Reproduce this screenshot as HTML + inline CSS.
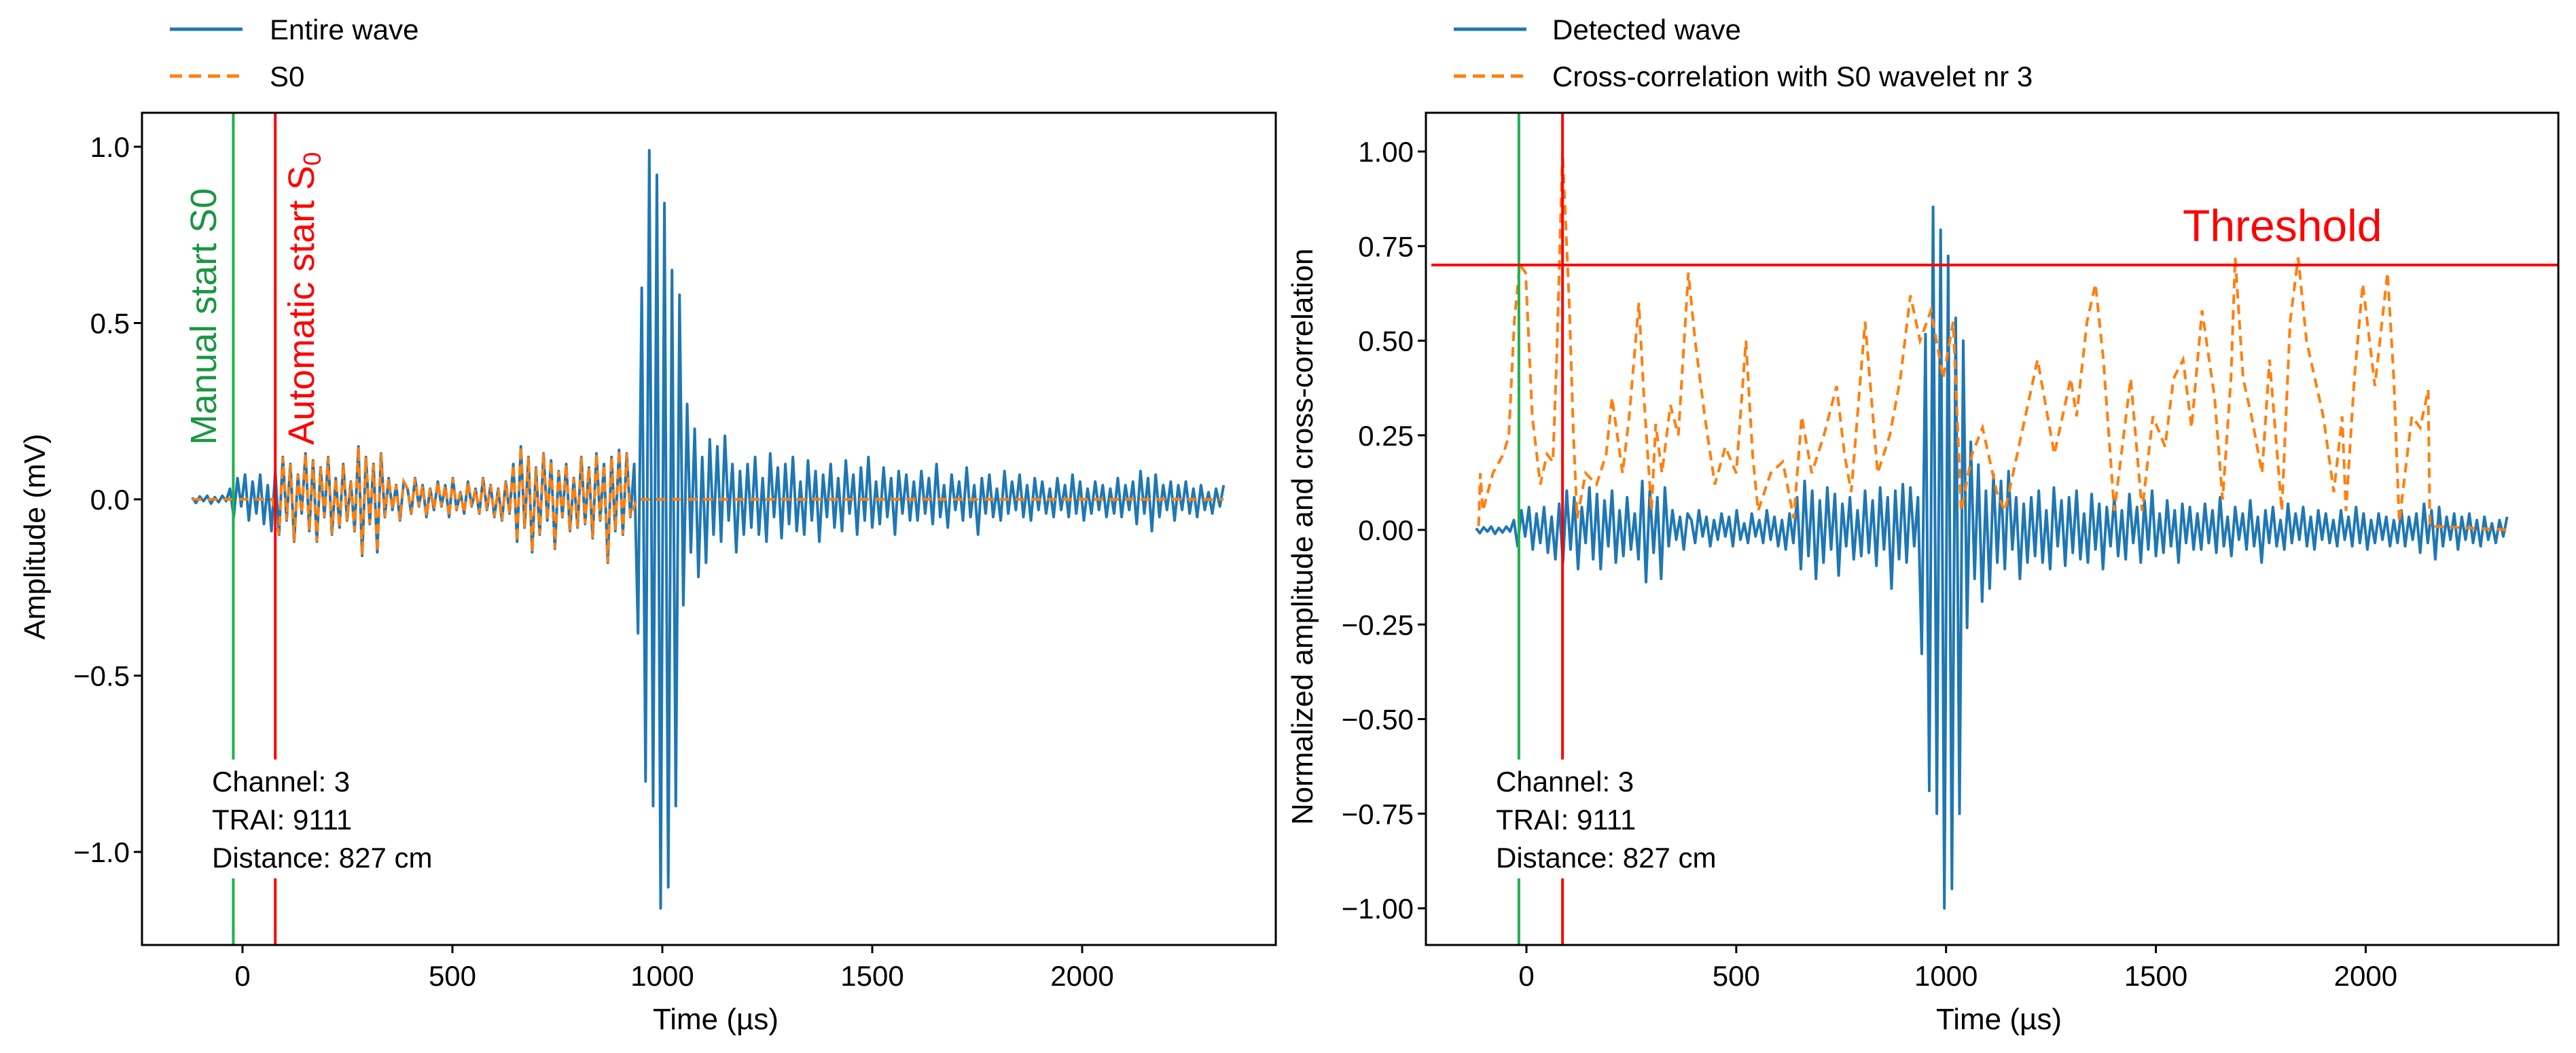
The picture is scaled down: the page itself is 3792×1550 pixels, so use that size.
<!DOCTYPE html>
<html><head><meta charset="utf-8"><style>
body{margin:0;background:#fff}
svg{display:block;font-family:"Liberation Sans",sans-serif}
</style></head><body>
<svg id="chart" width="3792" height="1550" viewBox="0 0 3792 1550" xmlns="http://www.w3.org/2000/svg"></svg>
<script>
// ---- data ----
const waveStart = -120, waveStep = 9;
const waveValues = [
0.005,-0.01,0.008,-0.005,0.01,-0.012,0.006,-0.008,0.01,-0.005,
0.03,-0.05,0.06,-0.02,0.07,-0.06,0.05,-0.04,0.07,-0.07,0.04,-0.09,
0.08,-0.1,0.12,-0.06,0.1,-0.12,0.07,-0.04,0.13,-0.09,0.11,-0.12,0.09,-0.05,0.12,-0.1,0.06,-0.08,0.1,-0.06,0.05,-0.09,0.15,-0.16,0.12,-0.07,0.1,-0.15,0.13,-0.05,0.06,-0.03,0.04,-0.06,0.05,
0.03,-0.04,0.06,-0.02,0.04,-0.05,0.03,-0.03,0.05,-0.02,0.04,-0.05,0.06,-0.03,0.02,-0.04,0.05,-0.02,0.03,-0.04,0.06,-0.03,0.04,-0.05,0.03,-0.06,0.05,-0.04,
0.1,-0.12,0.15,-0.08,0.12,-0.15,0.09,-0.1,0.13,-0.06,0.11,-0.14,0.08,-0.05,0.1,-0.09,0.06,-0.08,0.12,-0.07,0.09,-0.11,0.13,-0.06,0.1,-0.18,0.12,-0.09,0.14,-0.1,0.13,-0.05,
0.1,-0.38,0.6,-0.8,0.99,-0.87,0.92,-1.16,0.84,-1.1,0.65,-0.87,0.58,-0.3,0.27,-0.15,
0.2,-0.22,0.12,-0.18,0.17,-0.1,0.15,-0.12,0.18,-0.06,0.1,-0.15,0.08,-0.1,
0.1,-0.08,0.12,-0.1,0.06,-0.12,0.13,-0.05,0.09,-0.11,0.1,-0.07,0.12,-0.09,0.05,-0.1,0.11,-0.06,0.08,-0.12,0.07,-0.05,0.1,-0.08,0.06,-0.09,0.11,-0.04,0.07,-0.1,0.09,-0.06,0.12,-0.08,0.05,-0.07,0.09,-0.05,0.06,-0.1,0.08,-0.04,0.07,-0.06,
0.05,-0.06,0.08,-0.04,0.06,-0.07,0.1,-0.05,0.04,-0.08,0.07,-0.03,0.05,-0.06,0.09,-0.05,0.04,-0.1,0.06,-0.04,0.07,-0.05,0.03,-0.06,0.08,-0.04,0.05,-0.03,0.07,-0.05,0.04,-0.06,0.06,-0.03,0.05,-0.04,0.03,-0.05,0.06,-0.03,0.04,-0.05,0.07,-0.04,0.05,-0.06,0.03,-0.04,0.05,-0.03,0.04,-0.05,0.03,-0.04,0.06,-0.05,0.04,-0.03,0.05,-0.07,0.08,-0.04,0.06,-0.09,0.07,-0.05,0.04,-0.03,0.05,-0.06,0.04,-0.03,0.05,-0.04,0.03,-0.05,0.04,-0.03,0.02,-0.04,0.03,-0.02,0.04];
const s0Window = [80, 930];
const normMax = 1.16;
const xcTimes = [-114,-110,-104,-80,-55,-42,-29,-16,-2,14,33,49,63,72,86,102,112,121,141,167,190,204,229,245,268,280,298,308,323,343,362,386,402,425,449,474,500,523,539,552,582,611,637,656,680,709,739,758,774,807,837,866,891,915,938,964,993,1017,1036,1062,1087,1121,1140,1160,1189,1218,1258,1297,1311,1336,1356,1375,1401,1440,1467,1493,1522,1542,1565,1585,1610,1640,1659,1679,1689,1708,1728,1753,1771,1800,1820,1839,1859,1899,1924,1944,1953,1973,1993,2022,2052,2067,2080,2110,2130,2149,2153,2340];
const xcValues = [0.01,0.15,0.05,0.15,0.2,0.25,0.55,0.7,0.68,0.3,0.12,0.2,0.18,0.45,1.0,0.6,0.25,0.03,0.15,0.12,0.2,0.35,0.15,0.3,0.6,0.35,0.05,0.28,0.15,0.33,0.25,0.68,0.5,0.3,0.12,0.22,0.15,0.5,0.2,0.05,0.15,0.18,0.03,0.3,0.15,0.25,0.38,0.2,0.1,0.55,0.15,0.25,0.4,0.62,0.5,0.58,0.4,0.55,0.05,0.2,0.27,0.1,0.05,0.15,0.3,0.45,0.2,0.4,0.3,0.55,0.65,0.45,0.05,0.4,0.05,0.3,0.22,0.4,0.45,0.27,0.58,0.35,0.08,0.4,0.72,0.4,0.3,0.15,0.45,0.05,0.55,0.72,0.5,0.3,0.1,0.3,0.05,0.4,0.65,0.38,0.68,0.4,0.02,0.3,0.27,0.37,0.01,0.0];
const xTicks = [0,500,1000,1500,2000];
const yTicksL = [-1.0,-0.5,0.0,0.5,1.0];
const yTicksR = [-1.0,-0.75,-0.5,-0.25,0,0.25,0.5,0.75,1.0];
const manualStartL = -22, autoStartL = 78, manualStartR = -18, autoStartR = 86;
const threshold = 0.7;

// ---- axes ----
const xL = t => 357 + t*0.618, yL = v => 735 - v*519;
const xR = t => 2247 + t*0.6177, yR = v => 780 - v*557;
const svg = document.getElementById('chart');
const NS = 'http://www.w3.org/2000/svg';
function mk(tag, attrs, parent, text){const e=document.createElementNS(NS,tag);for(const k in attrs)e.setAttribute(k,attrs[k]);if(text!==undefined)e.textContent=text;(parent||svg).appendChild(e);return e;}
const BLUE='#1f77b4', ORANGE='#ff7f0e', GREEN='#22b14c', RED='#ff0000';

function panel(side){
  const L = side==='left';
  const X = L?xL:xR, Y = L?yL:yR;
  const box = L?[209,166,1878,1391]:[2099,166,3766,1391];
  const g = mk('g',{});
  
  
  const clipId='clip'+side;
  const cp=mk('clipPath',{id:clipId},g);mk('rect',{x:box[0],y:box[1],width:box[2]-box[0],height:box[3]-box[1]},cp);
  const plot=mk('g',{'clip-path':'url(#'+clipId+')'},g);
  let d='';
  waveValues.forEach((v,i)=>{const t=waveStart+i*waveStep;const val=L?v:v/normMax;d+=(i?'L':'M')+X(t).toFixed(1)+' '+Y(val).toFixed(1);});
  const w=mk('path',{d:d,fill:'none',stroke:BLUE,'stroke-width':4,'stroke-linejoin':'round'},plot);
  
  
  let od='';
  if(L){
    let pts=[[waveStart,0],[s0Window[0]-waveStep,0]];
    waveValues.forEach((v,i)=>{const t=waveStart+i*waveStep;if(t>=s0Window[0]&&t<=s0Window[1])pts.push([t,v]);});
    pts.push([s0Window[1]+waveStep,0]);
    pts.push([waveStart+(waveValues.length-1)*waveStep,0]);
    pts.forEach((p,i)=>{od+=(i?'L':'M')+X(p[0]).toFixed(1)+' '+Y(p[1]).toFixed(1);});
  } else {
    xcTimes.forEach((t,i)=>{od+=(i?'L':'M')+X(t).toFixed(1)+' '+Y(xcValues[i]).toFixed(1);});
  }
  const o=mk('path',{d:od,fill:'none',stroke:ORANGE,'stroke-width':4,'stroke-dasharray':'14 9'},plot);
  
  
  const tx=L?312:2202;
  mk('rect',{x:tx-8,y:1118,width:370,height:175,fill:'#fff'},plot);
  const ms=L?manualStartL:manualStartR, as=L?autoStartL:autoStartR;
  const gl=mk('line',{x1:X(ms),x2:X(ms),y1:box[1],y2:1118,stroke:GREEN,'stroke-width':4},plot);
  
  mk('line',{x1:X(ms),x2:X(ms),y1:1293,y2:box[3],stroke:GREEN,'stroke-width':4},plot);
  const rl=mk('line',{x1:X(as),x2:X(as),y1:box[1],y2:1118,stroke:RED,'stroke-width':4},plot);
  
  mk('line',{x1:X(as),x2:X(as),y1:1293,y2:box[3],stroke:RED,'stroke-width':4},plot);
  const info=mk('text',{x:tx,y:1165,'font-size':42,fill:'#000'},g);
  
  ['Channel: 3','TRAI: 9111','Distance: 827 cm'].forEach((s,i)=>mk('tspan',{x:tx,y:1165+i*56},info,s));
  if(!L){
    const th=mk('line',{x1:2107,x2:box[2],y1:Y(threshold),y2:Y(threshold),stroke:RED,'stroke-width':4},g);
    
    const tt=mk('text',{x:3213,y:355,'font-size':66,fill:RED},g,'Threshold');
    
  } else {
    const m=mk('text',{transform:'translate(318,655) rotate(-90)','font-size':54,fill:'#1a9641'},g,'Manual start S0');
    
    const a=mk('text',{transform:'translate(462,655) rotate(-90)','font-size':54,fill:RED},g);
    
    mk('tspan',{},a,'Automatic start S');mk('tspan',{'font-size':36,dy:10},a,'0');
  }
  const fr=mk('rect',{x:box[0],y:box[1],width:box[2]-box[0],height:box[3]-box[1],fill:'none',stroke:'#000','stroke-width':3},g);
  
  xTicks.forEach(t=>{
    mk('line',{x1:X(t),x2:X(t),y1:box[3],y2:box[3]+12,stroke:'#000','stroke-width':3},g);
    const l=mk('text',{x:X(t),y:box[3]+60,'font-size':42,'text-anchor':'middle'},g,String(t));
    
  });
  const xt=mk('text',{x:(box[0]+box[2])/2+10,y:1515,'font-size':44,'text-anchor':'middle'},g,'Time (µs)');
  
  (L?yTicksL:yTicksR).forEach(v=>{
    mk('line',{x1:box[0]-12,x2:box[0],y1:Y(v),y2:Y(v),stroke:'#000','stroke-width':3},g);
    const s=L?v.toFixed(1):v.toFixed(2);
    const l=mk('text',{x:box[0]-18,y:Y(v)+15,'font-size':42,'text-anchor':'end'},g,s.replace('-','\u2212'));
    
  });
  const yt=mk('text',{transform:L?'translate(66,790) rotate(-90)':'translate(1932,790) rotate(-90)','font-size':44,'text-anchor':'middle'},g,L?'Amplitude (mV)':'Normalized amplitude and cross-correlation');
  
  const lx=L?250:2140, ltx=L?397:2285;
  const lg=mk('g',{},g);
  
  const e1=mk('g',{},lg);
  mk('line',{x1:lx,x2:lx+107,y1:43,y2:43,stroke:BLUE,'stroke-width':5},e1);
  mk('text',{x:ltx,y:58,'font-size':42},e1,L?'Entire wave':'Detected wave');
  const e2=mk('g',{},lg);
  mk('line',{x1:lx,x2:lx+107,y1:112,y2:112,stroke:ORANGE,'stroke-width':5,'stroke-dasharray':'18 10'},e2);
  mk('text',{x:ltx,y:127,'font-size':42},e2,L?'S0':'Cross-correlation with S0 wavelet nr 3');
}
panel('left');panel('right');
</script>
</body></html>
